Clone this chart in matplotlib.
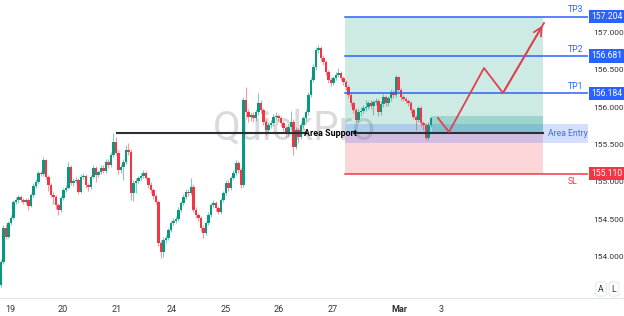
import numpy as np
import matplotlib.pyplot as plt
from matplotlib.lines import Line2D

# candle data (1 candle per slot), open = previous close
first_open = 153.63
closes = [153.93, 154.39, 154.27, 154.45, 154.52, 154.73, 154.76, 154.80, 154.76, 154.73,
          154.76, 154.68, 154.83, 154.95, 155.00, 155.12, 155.11, 155.29, 155.07, 154.96,
          154.83, 154.80, 154.69, 154.63, 154.79, 154.89, 154.92, 155.20, 154.99, 155.01,
          155.03, 154.87, 155.07, 155.08, 154.96, 154.93, 155.07, 155.19, 155.09, 155.13,
          155.19, 155.15, 155.27,
          155.23, 155.36, 155.53, 155.39, 155.16, 155.20, 155.27, 155.43, 155.40, 154.85,
          154.99, 155.01, 155.05, 155.08, 155.12, 155.05, 154.96, 154.89, 154.81, 154.73,
          154.19, 154.07, 154.23, 154.25, 154.36, 154.45, 154.48, 154.51, 154.63, 154.72,
          154.80, 154.87, 154.85, 154.93, 154.63, 154.56, 154.52, 154.39, 154.32, 154.45,
          154.56, 154.69,
          154.72, 154.65, 154.60, 154.76, 154.85, 154.99, 154.92, 155.05, 155.12, 155.25,
          155.16, 154.96, 156.09, 155.93, 155.87, 155.89, 155.85, 155.93, 156.05, 155.96,
          155.80, 155.69, 155.76, 155.79, 155.87, 155.88, 155.85, 155.79, 155.72, 155.65,
          155.73, 155.80, 155.47, 155.69, 155.60, 155.76, 155.85, 155.93, 156.16, 156.36,
          156.53, 156.76, 156.79, 156.65, 156.60, 156.47, 156.36, 156.32, 156.39, 156.43,
          156.45, 156.39, 156.33, 156.27, 156.16, 156.05, 155.96, 155.83, 155.93, 155.95,
          155.99, 156.00, 156.05, 156.01, 156.07, 156.08, 155.93, 156.04, 156.13, 156.05,
          156.12, 156.20, 156.16, 156.40, 156.23, 156.13, 156.11, 156.08, 156.05, 155.96,
          155.87, 155.83, 155.99, 155.79, 155.76, 155.59, 155.76, 155.85]
highs = [153.97, 154.43, 154.44, 154.48, 154.56, 154.76, 154.80, 154.83, 154.82, 154.78,
         154.79, 154.79, 154.85, 154.98, 155.04, 155.15, 155.15, 155.33, 155.31, 155.09,
         154.99, 154.86, 154.82, 154.72, 154.81, 154.92, 154.96, 155.27, 155.23, 155.05,
         155.07, 155.05, 155.10, 155.12, 155.10, 154.99, 155.09, 155.22, 155.21, 155.16,
         155.22, 155.22, 155.30,
         155.31, 155.40, 155.65, 155.60, 155.42, 155.24, 155.31, 155.50, 155.52, 155.44,
         155.02, 155.05, 155.08, 155.12, 155.16, 155.15, 155.07, 155.00, 154.92, 154.84,
         154.76, 154.22, 154.27, 154.29, 154.39, 154.48, 154.52, 154.55, 154.66, 154.75,
         154.84, 154.90, 154.91, 155.05, 154.97, 154.66, 154.59, 154.55, 154.42, 154.48,
         154.60, 154.72,
         154.76, 154.75, 154.68, 154.79, 154.88, 155.02, 155.03, 155.08, 155.16, 155.29,
         155.28, 155.19, 156.13, 156.27, 155.98, 155.94, 155.93, 155.97, 156.19, 156.10,
         155.99, 155.84, 155.80, 155.83, 155.91, 155.93, 155.91, 155.88, 155.82, 155.76,
         155.77, 155.95, 155.84, 155.73, 155.72, 155.80, 155.88, 155.97, 156.20, 156.40,
         156.57, 156.80, 156.83, 156.82, 156.69, 156.63, 156.50, 156.40, 156.42, 156.47,
         156.52, 156.48, 156.42, 156.36, 156.30, 156.19, 156.08, 155.99, 155.97, 156.00,
         156.03, 156.10, 156.08, 156.09, 156.10, 156.12, 156.11, 156.08, 156.17, 156.16,
         156.15, 156.24, 156.23, 156.43, 156.42, 156.26, 156.16, 156.14, 156.11, 156.08,
         155.99, 155.90, 156.02, 156.02, 155.82, 155.79, 155.80, 155.88]
lows = [153.60, 153.90, 154.24, 154.25, 154.42, 154.50, 154.70, 154.72, 154.73, 154.70,
        154.70, 154.63, 154.66, 154.80, 154.92, 154.97, 155.08, 155.08, 155.04, 154.88,
        154.80, 154.70, 154.64, 154.56, 154.60, 154.76, 154.86, 154.90, 154.96, 154.95,
        154.98, 154.84, 154.85, 155.04, 154.92, 154.88, 154.90, 155.05, 155.00, 155.06,
        155.10, 155.12, 155.12,
        155.18, 155.20, 155.33, 155.36, 155.10, 155.12, 155.03, 155.24, 155.36, 154.76,
        154.75, 154.85, 154.98, 155.02, 155.05, 155.02, 154.92, 154.85, 154.77, 154.70,
        154.15, 153.99, 154.00, 154.19, 154.22, 154.33, 154.42, 154.45, 154.48, 154.60,
        154.69, 154.77, 154.81, 154.82, 154.60, 154.52, 154.48, 154.35, 154.25, 154.29,
        154.42, 154.53,
        154.66, 154.61, 154.57, 154.57, 154.73, 154.82, 154.88, 154.89, 155.02, 155.09,
        155.12, 154.92, 154.93, 155.85, 155.80, 155.82, 155.80, 155.82, 155.90, 155.92,
        155.76, 155.63, 155.65, 155.72, 155.75, 155.83, 155.81, 155.75, 155.68, 155.60,
        155.61, 155.70, 155.36, 155.44, 155.52, 155.57, 155.72, 155.82, 155.90, 156.13,
        156.33, 156.50, 156.72, 156.62, 156.56, 156.43, 156.32, 156.28, 156.29, 156.36,
        156.40, 156.36, 156.30, 156.23, 156.12, 156.01, 155.92, 155.80, 155.80, 155.88,
        155.92, 155.95, 155.97, 155.97, 155.90, 156.03, 155.88, 155.90, 156.00, 156.01,
        156.02, 156.08, 156.12, 156.13, 156.20, 156.10, 156.08, 156.05, 156.02, 155.92,
        155.84, 155.70, 155.80, 155.75, 155.70, 155.56, 155.56, 155.73]

# trade levels
tp3, tp2, tp1, sl = 157.204, 156.681, 156.184, 155.110
entry = 155.653
entry_band = (155.52, 155.773)
zone_top = 155.88
yticks = [154.0, 154.5, 155.0, 155.5, 156.0, 156.5, 157.0]

# time axis (in candle slots)
date_pos = [3.6, 24.8, 46.4, 68.4, 90.0, 111.2, 132.8, 159.2, 176.0]
date_lbl = ['19', '20', '21', '24', '25', '26', '27', 'Mar', '3']

# drawing geometry in candle slots
support_start = 46.4
label_gap = (122.0, 141.2)
box_start, box_end = 137.6, 216.8
zone_start = 172.4
path_x = [174.8, 179.2, 193.2, 200.8, 217.2]
path_y = [155.853, 155.667, 156.52, 156.187, 157.12]

GREEN = '#089981'
RED = '#f23645'
BLUE = '#2962ff'

plt.rcParams['font.family'] = ['Roboto', 'DejaVu Sans']

fig = plt.figure(figsize=(6.24, 3.16), dpi=100)
ax = fig.add_axes([0, 18 / 316, 588 / 624, 298 / 316])
xmax = 234.8
ax.set_xlim(-0.4, xmax)
ax.set_ylim(153.453, 157.427)

closes = np.array(closes)
opens = np.concatenate([[first_open], closes[:-1]])
highs = np.array(highs)
lows = np.array(lows)
x = np.arange(len(closes))
up = closes >= opens
cols = np.where(up, GREEN, RED)

ax.vlines(x, lows, highs, colors=cols, lw=0.8, alpha=0.5, zorder=3)
bottom = np.minimum(opens, closes)
height = np.maximum(np.abs(closes - opens), 0.015)
ax.bar(x, height, bottom=bottom, width=0.9, color=cols, lw=0, zorder=4)

# watermark
ax.text(117.2, 155.72, 'QuickPro', fontsize=29, color='#dadada', ha='center', va='center',
        zorder=1)

# long position box
ax.fill_between([box_start, box_end], entry, tp3, color=GREEN, alpha=0.2, lw=0, zorder=2)
ax.fill_between([box_start, box_end], sl, entry, color=RED, alpha=0.2, lw=0, zorder=2)
ax.fill_between([box_start, xmax], entry_band[0], entry_band[1], color=BLUE, alpha=0.2,
                lw=0, zorder=2)
ax.fill_between([zone_start, box_end], entry, zone_top, color=GREEN, alpha=0.25, lw=0,
                zorder=2)

for lvl, name in [(tp3, 'TP3'), (tp2, 'TP2'), (tp1, 'TP1')]:
    ax.plot([box_start, xmax], [lvl, lvl], color=BLUE, lw=1.1, zorder=5)
    ax.text(232.8, lvl + 0.03, name, color=BLUE, fontsize=6.2, ha='right', va='bottom')
ax.plot([box_start, xmax], [sl, sl], color=RED, lw=1.1, zorder=5)
ax.text(230.5, sl - 0.04, 'SL', color=RED, fontsize=6.2, ha='right', va='top')
ax.text(226.8, entry, 'Area Entry', color='#4a72d6', fontsize=6.2, ha='center',
        va='center')

# area support line, broken around its label
ax.plot([support_start, label_gap[0]], [entry, entry], color='#2a2e39', lw=1.5, zorder=6)
ax.plot([label_gap[1], box_end], [entry, entry], color='#2a2e39', lw=1.5, zorder=6)
ax.text(131.6, entry, 'Area Support', fontsize=6.4, fontweight='bold', color='black',
        ha='center', va='center', zorder=7)

# projected path
ax.plot(path_x, path_y, color='#e0424f', lw=1.3, zorder=6)
ax.annotate('', xy=(path_x[-1], path_y[-1]), xytext=(path_x[-2], path_y[-2]),
            arrowprops=dict(arrowstyle='->,head_length=0.6,head_width=0.3',
                            color='#e0424f', lw=1.3), zorder=6)

# axes styling
for s in ax.spines.values():
    s.set_visible(False)
ax.yaxis.tick_right()
ax.set_yticks(yticks)
ax.set_yticklabels([f'{v:.3f}' for v in yticks])
ax.tick_params(axis='y', length=0, pad=4, labelsize=6.0, labelcolor='#333333')
ax.set_xticks(date_pos)
ax.set_xticklabels(date_lbl)
ax.tick_params(axis='x', length=0, pad=5, labelsize=6.5, labelcolor='#333333')
ax.get_xticklabels()[7].set_fontweight('bold')

# price tags on the scale
for lvl, c in [(tp3, BLUE), (tp2, BLUE), (tp1, BLUE), (sl, RED)]:
    ax.text(1.0055, lvl, f'{lvl:.3f}', transform=ax.get_yaxis_transform(), color='white',
            fontsize=6.2, ha='left', va='center', clip_on=False, zorder=8,
            bbox=dict(boxstyle='square,pad=0.25', fc=c, ec='none'))

# bottom separator and A/L buttons
fig.add_artist(Line2D([0, 1], [18 / 316, 18 / 316], color='#e0e3eb', lw=0.8))
for fx, t in [(601 / 624, 'A'), (614 / 624, 'L')]:
    fig.text(fx, 27 / 316, t, fontsize=6.2, color='#333333', ha='center', va='center',
             bbox=dict(boxstyle='round,pad=0.3', fc='white', ec='#e0e3eb', lw=0.6))

fig.savefig('out.png', dpi=100)
